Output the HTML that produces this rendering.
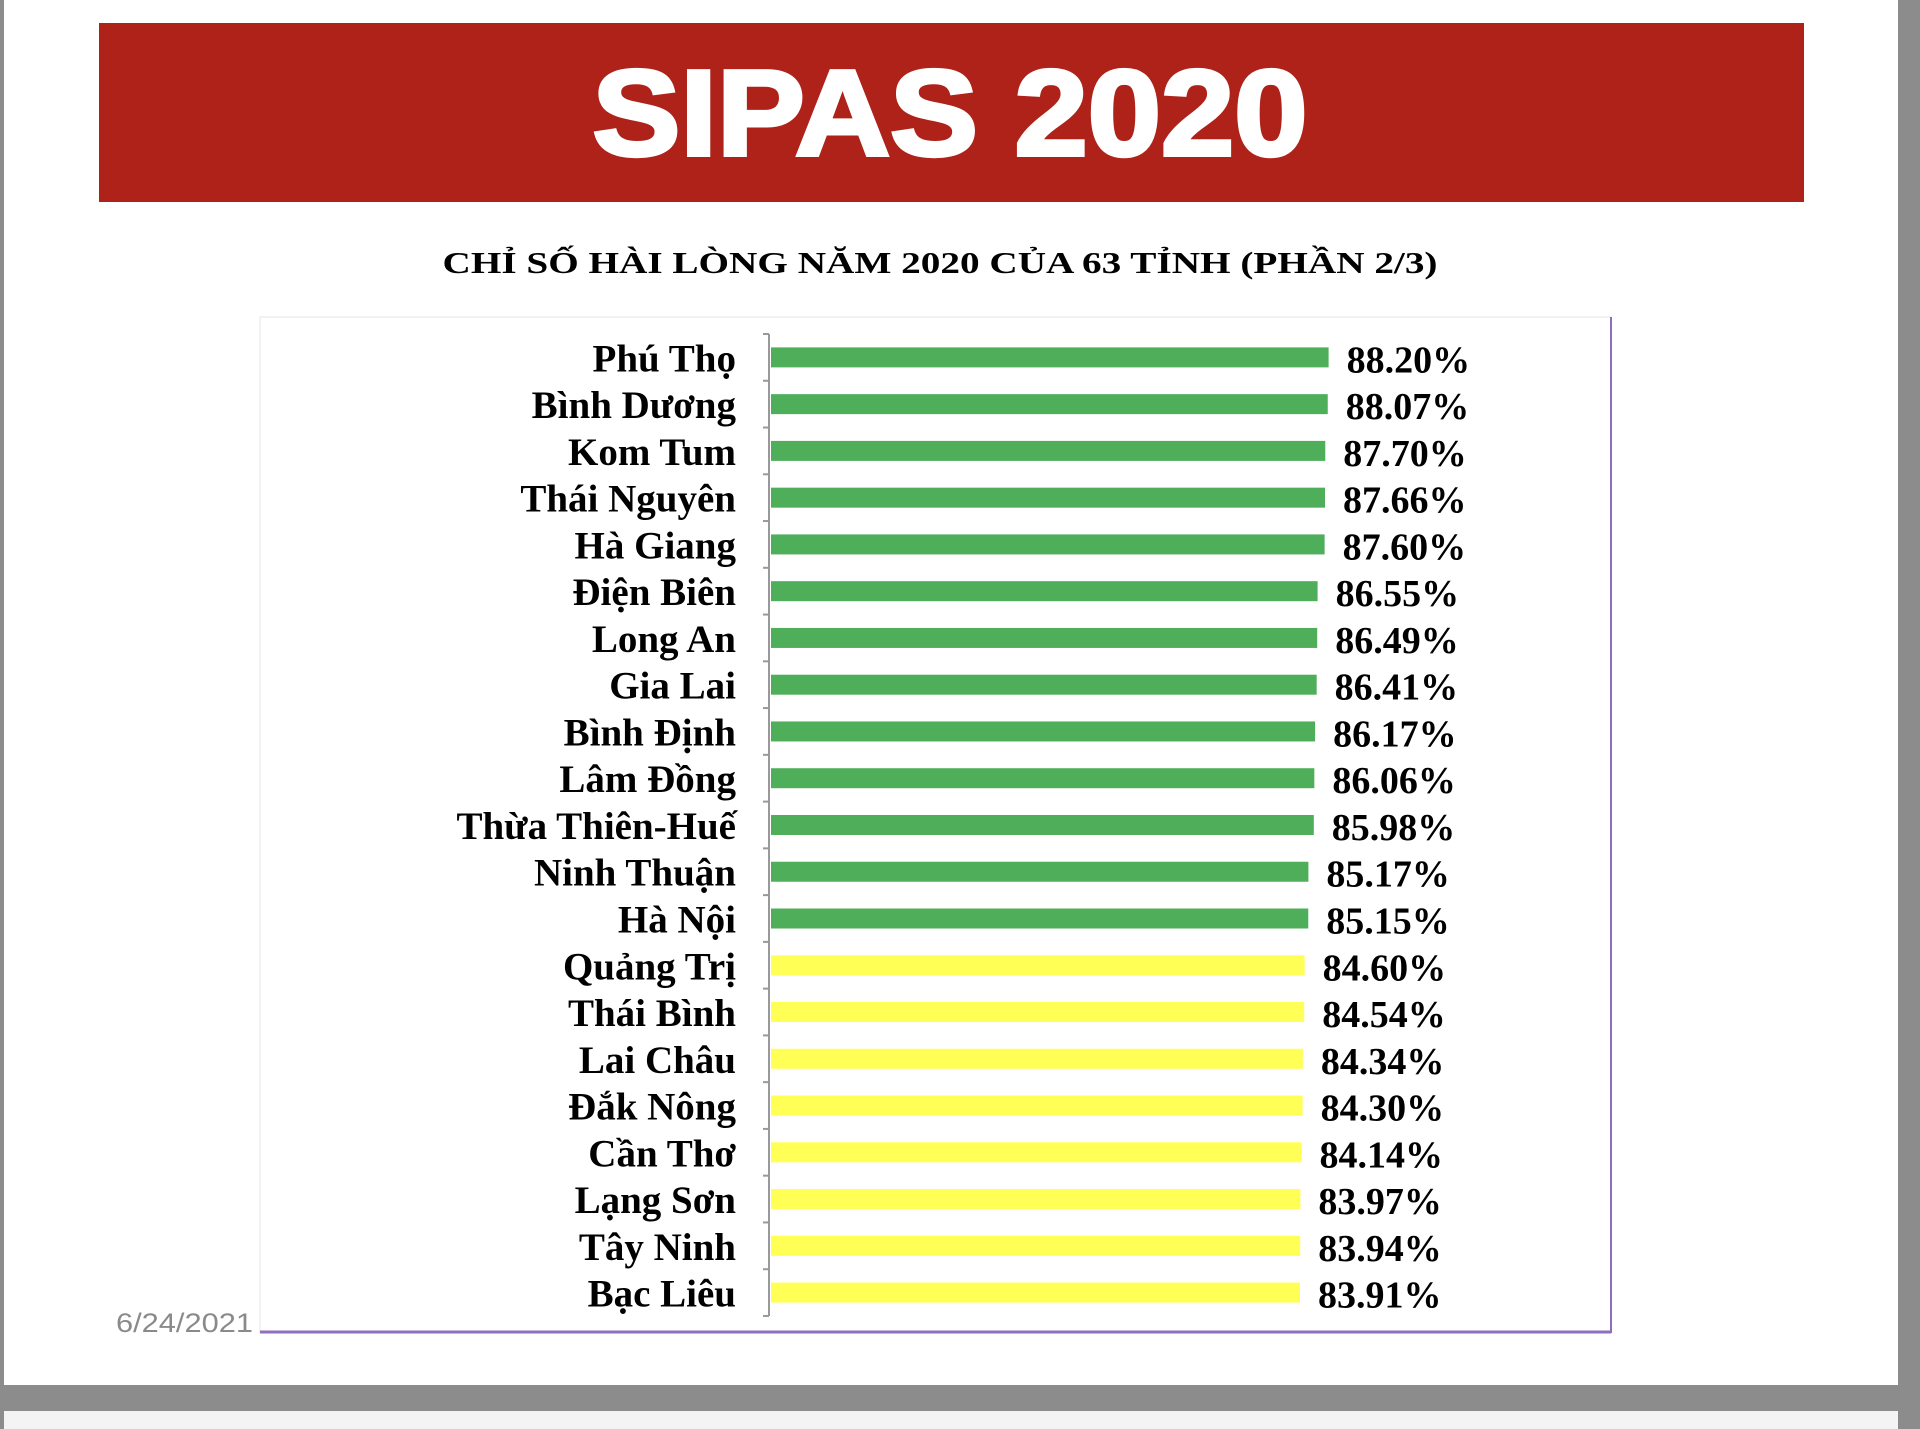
<!DOCTYPE html>
<html><head><meta charset="utf-8"><style>
html,body{margin:0;padding:0;background:#8a8a8a;}
svg{display:block}
</style></head><body>
<svg width="1920" height="1429" viewBox="0 0 1920 1429" xmlns="http://www.w3.org/2000/svg">
<rect x="0" y="0" width="1920" height="1429" fill="#8c8c8c"/>
<rect x="4" y="0" width="1894" height="1385" fill="#ffffff"/>
<rect x="4" y="1411" width="1894" height="18" fill="#f4f4f4"/>
<rect x="99" y="23" width="1705" height="179" fill="#ae2219"/>
<text x="950" y="155" text-anchor="middle" font-family="Liberation Sans, sans-serif" font-weight="bold" font-size="122" fill="#fff" stroke="#fff" stroke-width="4" textLength="715" lengthAdjust="spacingAndGlyphs">SIPAS 2020</text>
<text x="940" y="273" text-anchor="middle" font-family="Liberation Serif, serif" font-weight="bold" font-size="31" fill="#000" textLength="995" lengthAdjust="spacingAndGlyphs">CHỈ SỐ HÀI LÒNG NĂM 2020 CỦA 63 TỈNH (PHẦN 2/3)</text>
<rect x="260" y="317" width="1351" height="1016" fill="#fff" stroke="#e4e4e4" stroke-width="1"/>
<line x1="1611" y1="317" x2="1611" y2="1333" stroke="#8e6fbf" stroke-width="2"/>
<line x1="260" y1="1332" x2="1611" y2="1332" stroke="#8e6fbf" stroke-width="3"/>
<text x="116" y="1332" font-family="Liberation Sans, sans-serif" font-size="27" fill="#8a8a8a" textLength="137" lengthAdjust="spacingAndGlyphs">6/24/2021</text>
<g id="chart" font-family="Liberation Serif, serif" font-weight="bold" fill="#000"></g>
</svg>
<script>
var d=[["Phú Thọ",88.20],["Bình Dương",88.07],["Kom Tum",87.70],["Thái Nguyên",87.66],["Hà Giang",87.60],["Điện Biên",86.55],["Long An",86.49],["Gia Lai",86.41],["Bình Định",86.17],["Lâm Đồng",86.06],["Thừa Thiên-Huế",85.98],["Ninh Thuận",85.17],["Hà Nội",85.15],["Quảng Trị",84.60],["Thái Bình",84.54],["Lai Châu",84.34],["Đắk Nông",84.30],["Cần Thơ",84.14],["Lạng Sơn",83.97],["Tây Ninh",83.94],["Bạc Liêu",83.91]];
var g=document.getElementById('chart'),s="";
var t0=334,bh=46.76;
s+='<line x1="769" y1="'+t0+'" x2="769" y2="1316" stroke="#999" stroke-width="2"/>';
for(var i=0;i<=21;i++){var y=t0+i*bh;s+='<line x1="763" y1="'+y+'" x2="769" y2="'+y+'" stroke="#999" stroke-width="2"/>';}
d.forEach(function(r,i){
 var c=t0+(i+0.5)*bh,e=1300+(r[1]-83.91)*6.67;
 var col=i<13?"#4fae5a":"#ffff55";
 s+='<rect x="771" y="'+(c-10)+'" width="'+(e-771)+'" height="20" fill="'+col+'"/>';
 s+='<text x="736" y="'+(c+14)+'" text-anchor="end" font-size="39">'+r[0]+'</text>';
 s+='<text x="'+(e+18)+'" y="'+(c+15)+'" font-size="38">'+r[1].toFixed(2)+'%</text>';
});
g.innerHTML=s;
</script>
</body></html>
